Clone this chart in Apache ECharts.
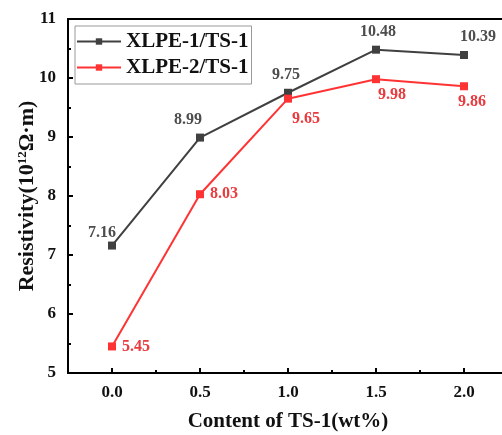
<!DOCTYPE html>
<html><head><meta charset="utf-8">
<script src="https://cdn.jsdelivr.net/npm/echarts@6/dist/echarts.min.js"></script>
<style>html,body{margin:0;padding:0;background:#fff}#c{width:502px;height:435px}</style>
</head><body><div id="c"></div>
<script>
const content = [0.0, 0.5, 1.0, 1.5, 2.0];
const xlpe1 = [7.16, 8.99, 9.75, 10.48, 10.39];
const xlpe2 = [5.45, 8.03, 9.65, 9.98, 9.86];
const seriesNames = ['XLPE-1/TS-1', 'XLPE-2/TS-1'];
const xTicks = [0.0, 0.5, 1.0, 1.5, 2.0];
const xMinorTicks = [0.25, 0.75, 1.25, 1.75];

const FONT = '"Liberation Serif", "DejaVu Serif", serif';
const GRAY = '#404040';
const RED = '#ff3333';
const GRAY_LBL = '#4d4d4d';
const RED_LBL = '#ea3a3d';

const grayPos = ['top', 'top', 'top', 'top', 'top'];
const redPos = ['right', 'right', 'bottom', 'bottom', 'bottom'];
const grayOff = [[-10, 5], [-12, 0], [-2, 0], [2, 0], [14, 0]];
const redOff = [[0, 0], [0, 0], [18, 2], [16, -2], [8, -2]];

function mk(vals, pos, off) {
  return vals.map((v, i) => ({
    value: [content[i], v],
    label: { position: pos[i], offset: off[i] }
  }));
}

const chart = echarts.init(document.getElementById('c'));
chart.setOption({
  animation: false,
  backgroundColor: '#fff',
  grid: { left: 68, top: 19, width: 440, bottom: 62, containLabel: false, outerBoundsMode: 'none', show: false },
  legend: {
    left: 75, top: 26, orient: 'vertical', itemGap: 5,
    itemWidth: 44, itemHeight: 8,
    padding: [5, 3, 6, 1],
    borderColor: '#999', borderWidth: 1,
    textStyle: { fontFamily: FONT, fontWeight: 'bold', fontSize: 21, color: '#111' },
    data: seriesNames
  },
  xAxis: [{
    type: 'value', min: -0.25, max: 2.25,
    name: 'Content of TS-1(wt%)', nameLocation: 'middle', nameGap: 38, nameMoveOverlap: false,
    nameTextStyle: { fontFamily: FONT, fontWeight: 'bold', fontSize: 21, color: '#111' },
    axisLine: { show: true, onZero: false, lineStyle: { color: '#000', width: 2 } },
    axisTick: { show: true, inside: true, length: 5, customValues: xTicks, lineStyle: { color: '#000', width: 2 } },
    axisLabel: { show: true, customValues: xTicks, margin: 11, fontFamily: FONT, fontWeight: 'bold', fontSize: 17, color: '#111', formatter: v => v.toFixed(1) },
    splitLine: { show: false }
  }, {
    type: 'value', min: -0.25, max: 2.25, position: 'bottom',
    axisLine: { show: false, onZero: false },
    axisTick: { show: true, inside: true, length: 3, customValues: xMinorTicks, lineStyle: { color: '#000', width: 2 } },
    axisLabel: { show: false },
    splitLine: { show: false }
  }, {
    type: 'value', min: -0.25, max: 2.25, position: 'top',
    axisLine: { show: true, onZero: false, lineStyle: { color: '#000', width: 2 } },
    axisTick: { show: false }, axisLabel: { show: false }, splitLine: { show: false }
  }],
  yAxis: {
    type: 'value', min: 5, max: 11, interval: 1,
    name: 'Resistivity(10{sup|12}Ω·m)', nameLocation: 'middle', nameGap: 30, nameRotate: 90, nameMoveOverlap: false,
    nameTextStyle: { fontFamily: FONT, fontWeight: 'bold', fontSize: 22, color: '#111',
      rich: { sup: { fontFamily: FONT, fontWeight: 'bold', fontSize: 13, color: '#111', verticalAlign: 'top', padding: [0, 0, 9, 0] } } },
    axisLine: { show: true, onZero: false, lineStyle: { color: '#000', width: 2 } },
    axisTick: { show: true, inside: true, length: 5, lineStyle: { color: '#000', width: 2 } },
    minorTick: { show: true, splitNumber: 2, length: 3, lineStyle: { color: '#000', width: 2 } },
    axisLabel: { margin: 12, fontFamily: FONT, fontWeight: 'bold', fontSize: 17, color: '#111' },
    splitLine: { show: false }
  },
  series: [{
    name: seriesNames[0], type: 'line',
    data: mk(xlpe1, grayPos, grayOff),
    symbol: 'rect', symbolSize: 8,
    lineStyle: { color: GRAY, width: 2 }, itemStyle: { color: GRAY },
    label: { show: true, distance: 6, fontFamily: FONT, fontWeight: 'bold', fontSize: 16, color: GRAY_LBL, formatter: p => p.value[1].toFixed(2) }
  }, {
    name: seriesNames[1], type: 'line',
    data: mk(xlpe2, redPos, redOff),
    symbol: 'rect', symbolSize: 8,
    lineStyle: { color: RED, width: 2 }, itemStyle: { color: RED },
    label: { show: true, distance: 6, fontFamily: FONT, fontWeight: 'bold', fontSize: 16, color: RED_LBL, formatter: p => p.value[1].toFixed(2) }
  }]
});
</script></body></html>
